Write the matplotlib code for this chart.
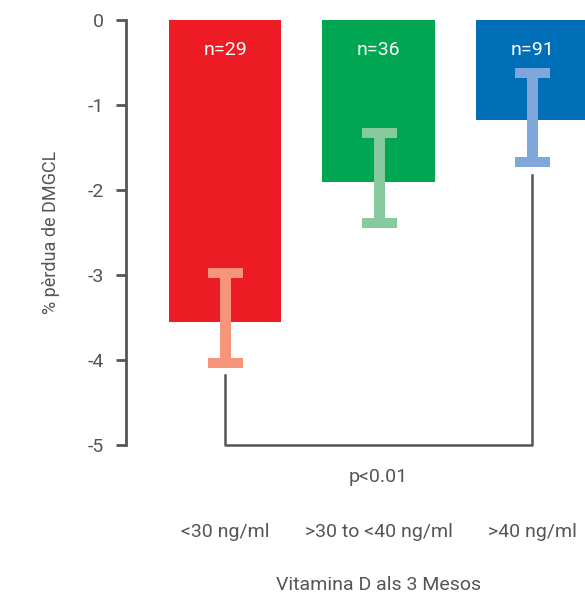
import matplotlib
matplotlib.use("Agg")
import matplotlib.pyplot as plt
import numpy as np
from matplotlib import font_manager

# data
categories = ["<30 ng/ml", ">30 to <40 ng/ml", ">40 ng/ml"]
means = [-3.55, -1.90, -1.18]
err_top = [-2.98, -1.335, -0.62]
err_bottom = [-4.04, -2.39, -1.67]
n_labels = ["n=29", "n=36", "n=91"]
bar_colors = ["#ED1C24", "#00A651", "#016EB8"]
err_colors = ["#F7957B", "#86CA9D", "#7FA7D9"]
bracket_ends = [-4.18, -1.82]
bracket_base = -5.0
yticks = [0, -1, -2, -3, -4, -5]

# pick a narrow font if there is one
names = set(f.name for f in font_manager.fontManager.ttflist)
fam = "Liberation Sans Narrow" if "Liberation Sans Narrow" in names else "Roboto"
plt.rcParams['font.family'] = [fam, 'DejaVu Sans']

grey = "#555555"
fs = 14

fig = plt.figure(figsize=(5.85, 5.97), dpi=100)
ax = fig.add_axes([126/585, 1-445/597, 1-126/585, (445-20)/597])

x = np.arange(len(categories))
ax.bar(x, means, width=0.73, color=bar_colors, zorder=1)

for i in range(len(x)):
    lo = means[i] - err_bottom[i]
    hi = err_top[i] - means[i]
    ax.errorbar(x[i], means[i], yerr=[[lo], [hi]], fmt='none',
                ecolor=err_colors[i], elinewidth=7.9, capsize=12.6,
                capthick=7.2, zorder=2)
    ax.text(x[i], -0.35, n_labels[i], color='white', ha='center',
            va='center', fontsize=fs)

# significance bracket
bx = [x[0], x[0], x[2], x[2]]
by = [bracket_ends[0], bracket_base, bracket_base, bracket_ends[1]]
ax.plot(bx, by, color=grey, lw=1.8, clip_on=False, zorder=3)

ax.set_xlim(-0.645, 2.345)
ax.set_ylim(-5, 0)
ax.set_yticks(yticks)
ax.set_yticklabels([str(t) for t in yticks])
ax.set_xticks([])

for s in ['top', 'right', 'bottom']:
    ax.spines[s].set_visible(False)
ax.spines['left'].set_color(grey)
ax.spines['left'].set_linewidth(2)
ax.tick_params(axis='y', colors=grey, length=7, width=2, labelsize=fs, pad=9)

ax.set_ylabel("% pèrdua de DMGCL", color=grey, fontsize=fs - 1, labelpad=20)

for i in range(len(x)):
    ax.text(x[i], -6.02, categories[i], color=grey, ha='center', va='center',
            fontsize=fs, clip_on=False)
ax.text(x[1], -5.38, "p<0.01", color=grey, ha='center', va='center', fontsize=fs)
ax.text(x[1], -6.65, "Vitamina D als 3 Mesos", color=grey, ha='center',
        va='center', fontsize=fs)

fig.savefig("out.png", dpi=100)
